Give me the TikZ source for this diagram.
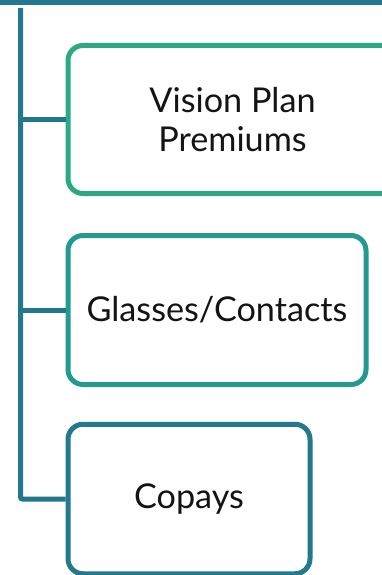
\documentclass[tikz,border=0pt]{standalone}
\usepackage{fontspec}
\setmainfont{Lato}
\definecolor{trunk}{HTML}{21788C}
\definecolor{boxA}{HTML}{2DA884}
\definecolor{boxB}{HTML}{24998F}
\definecolor{boxC}{HTML}{227A8C}
\tikzset{
  item/.style={draw, line width=5pt, rounded corners=15pt, fill=white,
    anchor=west, align=center, text=black!92,
    font=\fontsize{34.2}{39}\selectfont},
  branch/.style={draw=trunk, line width=5pt},
}
\begin{document}
\begin{tikzpicture}[x=1pt,y=-1pt]
\useasboundingbox (0,0) rectangle (382,575);
\clip (0,0) rectangle (382,575);
% header rule
\fill[trunk] (0,0) rectangle (382,5);
% the three items
\node[item, draw=boxA, minimum width=329pt, minimum height=148pt] (b1) at (65.5,119.5) {Vision Plan\\Premiums};
\node[item, draw=boxB, minimum width=298pt, minimum height=149pt] (b2) at (65.5,310) {Glasses/Contacts};
\node[item, draw=boxC, minimum width=242pt, minimum height=149.5pt] (b3) at (65.5,499) {Copays};
% trunk and branches
\coordinate (top) at (20.5,8);
\draw[branch, rounded corners=2pt] (top) |- (b3.west);
\draw[branch] (b1.west -| top) -- (b1.west);
\draw[branch] (b2.west -| top) -- (b2.west);
\end{tikzpicture}
\end{document}
